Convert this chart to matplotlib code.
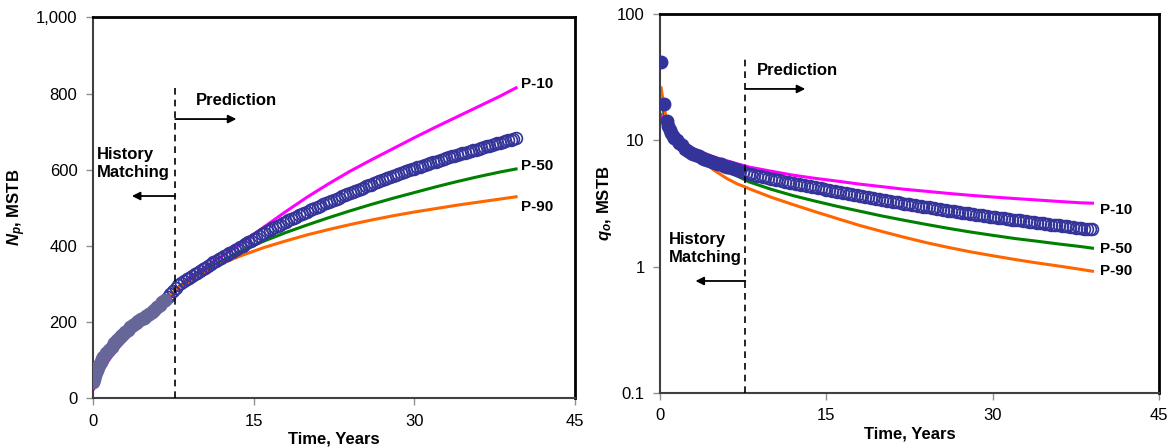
import matplotlib
matplotlib.use("Agg")
import matplotlib.pyplot as plt
from matplotlib.ticker import FuncFormatter, NullLocator

plt.rcParams['font.family'] = ['Liberation Sans', 'DejaVu Sans']
plt.rcParams['mathtext.fontset'] = 'custom'
plt.rcParams['mathtext.rm'] = 'Liberation Sans'
plt.rcParams['mathtext.it'] = 'Liberation Sans:italic'
plt.rcParams['mathtext.bf'] = 'Liberation Sans:bold'
plt.rcParams['mathtext.bfit'] = 'Liberation Sans:italic:bold'

# ---------------- data: cumulative oil Np (MSTB) ----------------
np_line_t = [0.1, 0.5, 1, 2, 3, 4, 5, 6, 7, 8, 9, 10, 11, 12, 13, 14, 15, 16, 18,
             20, 22, 24, 26, 28, 30, 32, 34, 36, 38, 39.5]
np_p10 = [25, 55, 80, 120, 152, 180, 205, 230, 255, 290, 315, 335, 354, 372, 391, 410,
          430, 450, 490, 528, 563, 596, 626, 655, 684, 712, 739, 766, 793, 815]
np_p50 = [35, 70, 100, 140, 170, 195, 218, 240, 262, 292, 310, 328, 345, 360, 374, 388,
          401, 413, 435, 455, 474, 492, 509, 525, 540, 555, 569, 582, 594, 602]
np_p90 = [45, 80, 105, 148, 180, 205, 228, 248, 268, 290, 308, 325, 340, 353, 365, 376,
          386, 396, 413, 429, 443, 456, 468, 479, 489, 498, 507, 515, 523, 529]

# history (filled markers)
np_hist_t = [0, 0.1, 0.2, 0.3, 0.4, 0.5, 0.6, 0.75, 0.9, 1, 1.25, 1.5, 1.75, 2, 2.25,
             2.5, 2.75, 3, 3.25, 3.5, 3.75, 4, 4.25, 4.5, 4.75, 5, 5.25, 5.5, 5.75, 6,
             6.25, 6.5, 6.75]
np_hist = [42, 50, 60, 68, 75, 82, 88, 96, 103, 108, 118, 127, 136, 145, 153,
           160, 167, 174, 180, 186, 192, 197, 202, 207, 212, 217, 222, 227, 233, 240,
           246, 252, 259]

# prediction (open markers), quarterly from year 7
np_pred = [266, 274, 282, 290,  297, 302, 307, 312,  316, 321, 325, 330,
           334, 339, 343, 348,  352, 357, 361, 365,  369, 373, 377, 381,
           385, 389, 393, 397,  401, 406, 410, 414,  418, 422, 426, 430,
           434, 438, 442, 446,  449, 453, 456, 460,  463, 467, 470, 474,
           477, 481, 484, 487,  490, 494, 497, 500,  503, 506, 509, 512,
           515, 518, 521, 524,  527, 530, 533, 536,  539, 542, 545, 548,
           550, 553, 556, 559,  561, 564, 567, 570,  572, 575, 578, 581,
           583, 586, 588, 591,  593, 596, 598, 601,  603, 606, 608, 610,
           612, 615, 617, 619,  621, 624, 626, 628,  630, 633, 635, 637,
           639, 641, 643, 645,  647, 649, 651, 653,  655, 657, 659, 661,
           663, 665, 667, 669,  671, 673, 675, 677,  678, 680, 682]
np_pred_t = [7 + 0.25 * i for i in range(len(np_pred))]

# ---------------- data: oil rate qo (MSTB) ----------------
qo_line_t = [0.1, 0.3, 0.5, 1, 2, 3, 4, 5, 6, 7, 7.7, 8, 10, 12, 14, 16, 18, 20, 22, 24,
             26, 28, 30, 32, 34, 36, 38, 39]
qo_p10 = [16, 14, 13, 11.5, 9.5, 8.5, 7.9, 7.3, 6.9, 6.5, 6.27, 6.15, 5.7, 5.3, 5.0,
          4.75, 4.5, 4.3, 4.1, 3.95, 3.8, 3.67, 3.56, 3.46, 3.37, 3.28, 3.2, 3.18]
qo_p50 = [20, 17, 15, 12, 9.3, 8.0, 7.0, 6.3, 5.7, 5.2, 4.85, 4.7, 4.1, 3.65, 3.3, 3.0,
          2.75, 2.52, 2.33, 2.16, 2.01, 1.88, 1.77, 1.67, 1.59, 1.51, 1.44, 1.40]
qo_p90 = [26, 20, 16, 12.5, 9.5, 7.8, 6.6, 5.7, 5.0, 4.5, 4.27, 4.15, 3.55, 3.1, 2.72,
          2.4, 2.12, 1.9, 1.71, 1.55, 1.42, 1.31, 1.22, 1.14, 1.07, 1.01, 0.95, 0.92]

qo_hist_t = [0.1, 0.35, 0.6, 0.75, 0.9, 1.0, 1.15, 1.3, 1.5, 1.75, 2, 2.25, 2.5, 2.75,
             3, 3.25, 3.5, 3.75, 4, 4.25, 4.5, 4.75, 5, 5.25, 5.5, 5.75, 6, 6.25, 6.5,
             6.75, 7]
qo_hist = [42, 19.5, 14.3, 13.0, 12.0, 11.4, 10.9, 10.5, 10.0, 9.5, 9.1, 8.6, 8.2, 8.0,
           7.8, 7.6, 7.45, 7.3, 7.15, 7.0, 6.9, 6.75, 6.65, 6.55, 6.45, 6.3, 6.2, 6.1, 6.0,
           5.9, 5.8]

# prediction, quarterly from 7.25 years
qo_pred = [5.7, 5.6, 5.52,
           5.45, 5.38, 5.32, 5.26,  5.2, 5.14, 5.08, 5.02,  4.97, 4.92, 4.87, 4.82,
           4.77, 4.72, 4.67, 4.62,  4.58, 4.53, 4.49, 4.45,  4.4, 4.36, 4.32, 4.28,
           4.24, 4.2, 4.16, 4.12,  4.08, 4.04, 4.0, 3.96,  3.93, 3.89, 3.85, 3.81,
           3.78, 3.74, 3.71, 3.67,  3.64, 3.6, 3.57, 3.54,  3.51, 3.48, 3.45, 3.42,
           3.39, 3.36, 3.33, 3.3,  3.27, 3.24, 3.22, 3.19,  3.16, 3.13, 3.11, 3.08,
           3.06, 3.03, 3.01, 2.98,  2.96, 2.94, 2.92, 2.89,  2.87, 2.85, 2.83, 2.8,
           2.78, 2.76, 2.74, 2.72,  2.7, 2.68, 2.66, 2.64,  2.62, 2.6, 2.58, 2.56,
           2.55, 2.53, 2.51, 2.49,  2.48, 2.46, 2.44, 2.42,  2.41, 2.39, 2.38, 2.36,
           2.35, 2.33, 2.32, 2.3,  2.29, 2.27, 2.26, 2.24,  2.23, 2.21, 2.2, 2.18,
           2.17, 2.15, 2.14, 2.13,  2.12, 2.1, 2.09, 2.08,  2.07, 2.05, 2.04, 2.03,
           2.02, 2.0, 1.99, 1.98,  1.97]
qo_pred_t = [7.25 + 0.25 * i for i in range(len(qo_pred))]

split_t = 7.7
x_ticks = [0, 15, 30, 45]

MAG = '#ff00ff'
GRN = '#008000'
ORG = '#ff6600'
BLUE = '#333399'


def style_axes(ax):
    for s in ['top', 'right']:
        ax.spines[s].set_color('black')
        ax.spines[s].set_linewidth(2)
    for s in ['left', 'bottom']:
        ax.spines[s].set_color('#404040')
        ax.spines[s].set_linewidth(1.5)
    ax.tick_params(axis='both', which='major', direction='out', length=5, width=1,
                   color='#909090', labelsize=12, pad=6)
    ax.set_xlim(0, 45)
    ax.set_xticks(x_ticks)
    ax.set_xlabel('Time, Years', fontsize=12, fontweight='bold', labelpad=2)


def arrow(ax, x0, x1, y):
    ax.annotate('', xy=(x1, y), xytext=(x0, y),
                arrowprops=dict(arrowstyle='-|>', color='black', lw=1.3,
                                mutation_scale=12, shrinkA=0, shrinkB=0))


fig = plt.figure(figsize=(11.74, 4.48), dpi=100)
ax1 = fig.add_axes([0.0790, 0.1109, 0.4108, 0.8504])
ax2 = fig.add_axes([0.5622, 0.1228, 0.4250, 0.8460])

# ---- left: Np ----
ax1.plot(np_line_t, np_p10, color=MAG, lw=2.2, zorder=2)
ax1.plot(np_line_t, np_p50, color=GRN, lw=2.2, zorder=2)
ax1.plot(np_line_t, np_p90, color=ORG, lw=2.2, zorder=2)
ax1.plot(np_pred_t, np_pred, ls='none', marker='o', ms=8.5, mfc='none', mec=BLUE,
         mew=1.2, zorder=3)
ax1.plot(np_hist_t, np_hist, ls='none', marker='o', ms=9, mfc='#666699', mec='#666699',
         zorder=4)
ax1.plot([split_t, split_t], [0, 815], color='black', lw=1.2, ls=(0, (4, 3)), zorder=5)
ax1.set_ylim(0, 1000)
ax1.set_yticks([0, 200, 400, 600, 800, 1000])
ax1.yaxis.set_major_formatter(FuncFormatter(lambda v, p: f'{v:,.0f}'))
style_axes(ax1)
ax1.set_ylabel(r'$\mathbfit{N}_\mathbfit{p}$, MSTB', fontsize=12, fontweight='bold',
               labelpad=6)

ax1.text(9.6, 783, 'Prediction', fontsize=12, fontweight='bold', va='center', ha='left')
arrow(ax1, split_t, 13.4, 733)
ax1.text(0.4, 616, 'History\nMatching', fontsize=12, fontweight='bold', va='center',
         ha='left', linespacing=1.25)
arrow(ax1, split_t, 3.65, 531)
ax1.text(40.0, 825, 'P-10', fontsize=11, fontweight='bold', va='center')
ax1.text(40.0, 610, 'P-50', fontsize=11, fontweight='bold', va='center')
ax1.text(40.0, 502, 'P-90', fontsize=11, fontweight='bold', va='center')

# ---- right: qo ----
ax2.set_yscale('log')
ax2.plot(qo_line_t, qo_p10, color=MAG, lw=2.2, zorder=2)
ax2.plot(qo_line_t, qo_p50, color=GRN, lw=2.2, zorder=2)
ax2.plot(qo_line_t, qo_p90, color=ORG, lw=2.2, zorder=2)
ax2.plot(qo_pred_t, qo_pred, ls='none', marker='o', ms=8.5, mfc='none', mec=BLUE,
         mew=1.2, zorder=3)
ax2.plot(qo_hist_t, qo_hist, ls='none', marker='o', ms=9, mfc=BLUE, mec=BLUE, zorder=4)
ax2.plot([split_t, split_t], [0.1, 45], color='black', lw=1.2, ls=(0, (4, 3)), zorder=5)
ax2.set_ylim(0.1, 100)
ax2.set_yticks([0.1, 1, 10, 100])
ax2.yaxis.set_minor_locator(NullLocator())
ax2.yaxis.set_major_formatter(FuncFormatter(lambda v, p: f'{v:g}'))
style_axes(ax2)
ax2.set_ylabel(r'$\mathbfit{q}_\mathbfit{o}$, MSTB', fontsize=12, fontweight='bold',
               labelpad=2)

ax2.text(8.75, 36, 'Prediction', fontsize=12, fontweight='bold', va='center', ha='left')
arrow(ax2, split_t, 13.1, 25.5)
ax2.text(0.8, 1.38, 'History\nMatching', fontsize=12, fontweight='bold', va='center',
         ha='left', linespacing=1.25)
arrow(ax2, split_t, 3.2, 0.77)
ax2.text(39.7, 2.8, 'P-10', fontsize=11, fontweight='bold', va='center')
ax2.text(39.7, 1.38, 'P-50', fontsize=11, fontweight='bold', va='center')
ax2.text(39.7, 0.92, 'P-90', fontsize=11, fontweight='bold', va='center')

fig.savefig('out.png', dpi=100)
